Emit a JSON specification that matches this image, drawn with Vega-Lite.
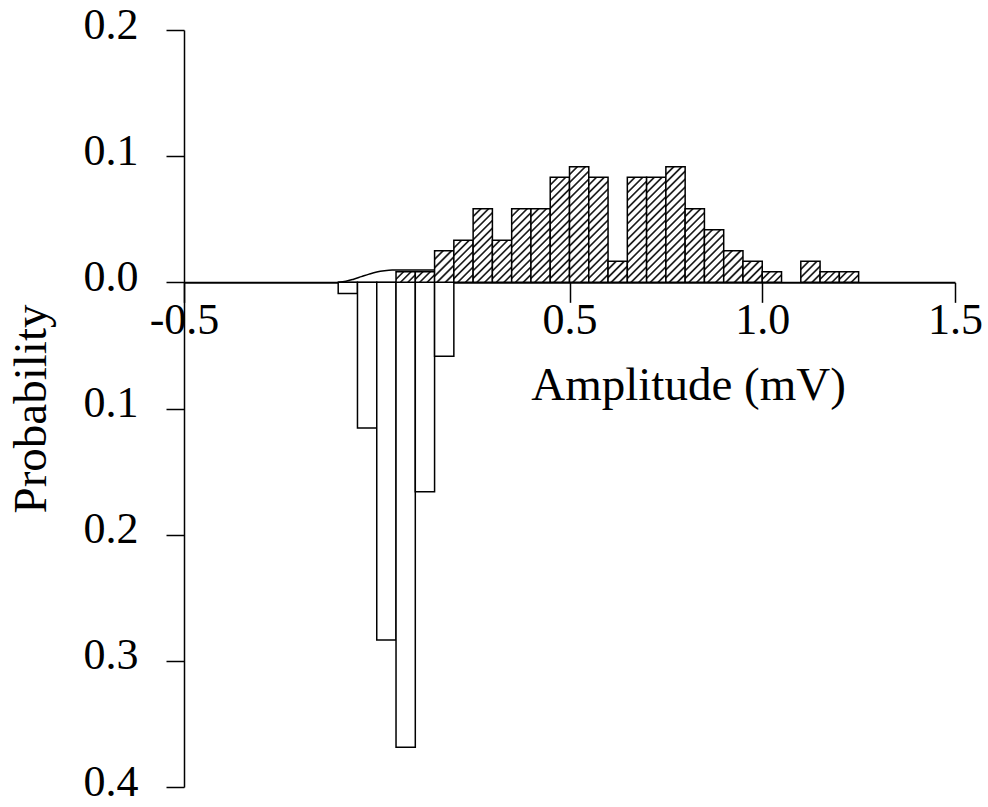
{
  "$schema": "https://vega.github.io/schema/vega-lite/v6.json",
  "width": 771,
  "height": 757,
  "autosize": {"type": "none"},
  "padding": {"left": 184, "top": 30, "right": 33, "bottom": 20},
  "background": "white",
  "config": {
    "view": {"stroke": null},
    "axis": {
      "grid": false,
      "labelFont": "Liberation Serif",
      "titleFont": "Liberation Serif",
      "labelColor": "black",
      "titleColor": "black",
      "domainColor": "black",
      "tickColor": "black",
      "titleFontWeight": "normal",
      "labelFontSize": 44,
      "titleFontSize": 47
    }
  },
  "datasets": {
    "evoked": [
      {"lo": 0.05, "hi": 0.10, "p": 0.00833},
      {"lo": 0.10, "hi": 0.15, "p": 0.00833},
      {"lo": 0.15, "hi": 0.20, "p": 0.025},
      {"lo": 0.20, "hi": 0.25, "p": 0.03333},
      {"lo": 0.25, "hi": 0.30, "p": 0.05833},
      {"lo": 0.30, "hi": 0.35, "p": 0.03333},
      {"lo": 0.35, "hi": 0.40, "p": 0.05833},
      {"lo": 0.40, "hi": 0.45, "p": 0.05833},
      {"lo": 0.45, "hi": 0.50, "p": 0.08333},
      {"lo": 0.50, "hi": 0.55, "p": 0.09167},
      {"lo": 0.55, "hi": 0.60, "p": 0.08333},
      {"lo": 0.60, "hi": 0.65, "p": 0.01667},
      {"lo": 0.65, "hi": 0.70, "p": 0.08333},
      {"lo": 0.70, "hi": 0.75, "p": 0.08333},
      {"lo": 0.75, "hi": 0.80, "p": 0.09167},
      {"lo": 0.80, "hi": 0.85, "p": 0.05833},
      {"lo": 0.85, "hi": 0.90, "p": 0.04167},
      {"lo": 0.90, "hi": 0.95, "p": 0.025},
      {"lo": 0.95, "hi": 1.00, "p": 0.01667},
      {"lo": 1.00, "hi": 1.05, "p": 0.00833},
      {"lo": 1.10, "hi": 1.15, "p": 0.01667},
      {"lo": 1.15, "hi": 1.20, "p": 0.00833},
      {"lo": 1.20, "hi": 1.25, "p": 0.00833}
    ],
    "noise": [
      {"lo": -0.10, "hi": -0.05, "p": -0.0088},
      {"lo": -0.05, "hi": 0.00, "p": -0.1155},
      {"lo": 0.00, "hi": 0.05, "p": -0.2835},
      {"lo": 0.05, "hi": 0.10, "p": -0.3685},
      {"lo": 0.10, "hi": 0.15, "p": -0.1660},
      {"lo": 0.15, "hi": 0.20, "p": -0.0585}
    ],
    "curve": [
      {"a": -0.10, "p": 0.0},
      {"a": -0.08, "p": 0.0008},
      {"a": -0.06, "p": 0.0025},
      {"a": -0.04, "p": 0.0045},
      {"a": -0.02, "p": 0.0065},
      {"a": 0.00, "p": 0.0082},
      {"a": 0.02, "p": 0.0092},
      {"a": 0.04, "p": 0.0097},
      {"a": 0.15, "p": 0.0098}
    ]
  },
  "layer": [
    {
      "data": {"name": "noise"},
      "mark": {"type": "rect", "fill": "white", "stroke": "black", "strokeWidth": 1.5},
      "encoding": {
        "x": {
          "field": "lo",
          "type": "quantitative",
          "scale": {"domain": [-0.5, 1.5], "nice": false, "zero": false},
          "axis": {
            "orient": "bottom",
            "offset": {"expr": "scale('y', 0) - height"},
            "values": [-0.5, 0.5, 1.0, 1.5],
            "labelExpr": "(datum.value < 0 ? '-' : '') + format(abs(datum.value), '.1f')",
            "domainWidth": 2,
            "tickWidth": 1.5,
            "tickSize": 20,
            "labelPadding": -4,
            "labelFlush": false,
            "labelOverlap": false,
            "titleX": 504,
            "titleY": 117,
            "titleAlign": "center",
            "titleBaseline": "alphabetic"
          },
          "title": "Amplitude (mV)"
        },
        "x2": {"field": "hi"},
        "y": {
          "field": "p",
          "type": "quantitative",
          "scale": {"domain": [-0.4, 0.2], "nice": false, "zero": false},
          "axis": {
            "orient": "left",
            "values": [-0.4, -0.3, -0.2, -0.1, 0, 0.1, 0.2],
            "labelExpr": "format(abs(datum.value), '.1f')",
            "domainWidth": 1.5,
            "tickWidth": 1.5,
            "tickSize": 18,
            "labelPadding": 28,
            "labelOffset": -5,
            "labelFlush": false,
            "labelOverlap": false,
            "titlePadding": 28
          },
          "title": "Probability"
        },
        "y2": {"datum": 0}
      }
    },
    {
      "data": {"name": "evoked"},
      "mark": {"type": "rect", "stroke": "black", "strokeWidth": 1.5},
      "encoding": {
        "x": {"field": "lo", "type": "quantitative", "title": "Amplitude (mV)"},
        "x2": {"field": "hi"},
        "y": {"field": "p", "type": "quantitative", "title": "Probability"},
        "y2": {"datum": 0},
        "fill": {
          "condition": [
            {"test": "round(datum.p * 120) == 11", "value": {"gradient": "linear", "x1": 0, "y1": 0, "x2": 0.189, "y2": 1.135, "stops": [
              {"offset": 0, "color": "#1a1a1a"}, {"offset": 0.0035, "color": "#1a1a1a"}, {"offset": 0.0141, "color": "#fff"},
              {"offset": 0.0447, "color": "#fff"}, {"offset": 0.0553, "color": "#1a1a1a"}, {"offset": 0.0624, "color": "#1a1a1a"}, {"offset": 0.0729, "color": "#fff"},
              {"offset": 0.1035, "color": "#fff"}, {"offset": 0.1141, "color": "#1a1a1a"}, {"offset": 0.1212, "color": "#1a1a1a"}, {"offset": 0.1318, "color": "#fff"},
              {"offset": 0.1624, "color": "#fff"}, {"offset": 0.1729, "color": "#1a1a1a"}, {"offset": 0.18, "color": "#1a1a1a"}, {"offset": 0.1906, "color": "#fff"},
              {"offset": 0.2212, "color": "#fff"}, {"offset": 0.2318, "color": "#1a1a1a"}, {"offset": 0.2388, "color": "#1a1a1a"}, {"offset": 0.2494, "color": "#fff"},
              {"offset": 0.28, "color": "#fff"}, {"offset": 0.2906, "color": "#1a1a1a"}, {"offset": 0.2976, "color": "#1a1a1a"}, {"offset": 0.3082, "color": "#fff"},
              {"offset": 0.3388, "color": "#fff"}, {"offset": 0.3494, "color": "#1a1a1a"}, {"offset": 0.3565, "color": "#1a1a1a"}, {"offset": 0.3671, "color": "#fff"},
              {"offset": 0.3976, "color": "#fff"}, {"offset": 0.4082, "color": "#1a1a1a"}, {"offset": 0.4153, "color": "#1a1a1a"}, {"offset": 0.4259, "color": "#fff"},
              {"offset": 0.4565, "color": "#fff"}, {"offset": 0.4671, "color": "#1a1a1a"}, {"offset": 0.4741, "color": "#1a1a1a"}, {"offset": 0.4847, "color": "#fff"},
              {"offset": 0.5153, "color": "#fff"}, {"offset": 0.5259, "color": "#1a1a1a"}, {"offset": 0.5329, "color": "#1a1a1a"}, {"offset": 0.5435, "color": "#fff"},
              {"offset": 0.5741, "color": "#fff"}, {"offset": 0.5847, "color": "#1a1a1a"}, {"offset": 0.5918, "color": "#1a1a1a"}, {"offset": 0.6024, "color": "#fff"},
              {"offset": 0.6329, "color": "#fff"}, {"offset": 0.6435, "color": "#1a1a1a"}, {"offset": 0.6506, "color": "#1a1a1a"}, {"offset": 0.6612, "color": "#fff"},
              {"offset": 0.6918, "color": "#fff"}, {"offset": 0.7024, "color": "#1a1a1a"}, {"offset": 0.7094, "color": "#1a1a1a"}, {"offset": 0.72, "color": "#fff"},
              {"offset": 0.7506, "color": "#fff"}, {"offset": 0.7612, "color": "#1a1a1a"}, {"offset": 0.7682, "color": "#1a1a1a"}, {"offset": 0.7788, "color": "#fff"},
              {"offset": 0.8094, "color": "#fff"}, {"offset": 0.82, "color": "#1a1a1a"}, {"offset": 0.8271, "color": "#1a1a1a"}, {"offset": 0.8376, "color": "#fff"},
              {"offset": 0.8682, "color": "#fff"}, {"offset": 0.8788, "color": "#1a1a1a"}, {"offset": 0.8859, "color": "#1a1a1a"}, {"offset": 0.8965, "color": "#fff"},
              {"offset": 0.9271, "color": "#fff"}, {"offset": 0.9376, "color": "#1a1a1a"}, {"offset": 0.9447, "color": "#1a1a1a"}, {"offset": 0.9553, "color": "#fff"},
              {"offset": 0.9859, "color": "#fff"}, {"offset": 0.9965, "color": "#1a1a1a"}, {"offset": 1, "color": "#1a1a1a"}
            ]}},
            {"test": "round(datum.p * 120) == 10", "value": {"gradient": "linear", "x1": 0, "y1": 0, "x2": 0.210, "y2": 1.145, "stops": [
              {"offset": 0, "color": "#1a1a1a"}, {"offset": 0.0038, "color": "#1a1a1a"}, {"offset": 0.015, "color": "#fff"},
              {"offset": 0.0475, "color": "#fff"}, {"offset": 0.0588, "color": "#1a1a1a"}, {"offset": 0.0663, "color": "#1a1a1a"}, {"offset": 0.0775, "color": "#fff"},
              {"offset": 0.11, "color": "#fff"}, {"offset": 0.1213, "color": "#1a1a1a"}, {"offset": 0.1288, "color": "#1a1a1a"}, {"offset": 0.14, "color": "#fff"},
              {"offset": 0.1725, "color": "#fff"}, {"offset": 0.1838, "color": "#1a1a1a"}, {"offset": 0.1913, "color": "#1a1a1a"}, {"offset": 0.2025, "color": "#fff"},
              {"offset": 0.235, "color": "#fff"}, {"offset": 0.2463, "color": "#1a1a1a"}, {"offset": 0.2538, "color": "#1a1a1a"}, {"offset": 0.265, "color": "#fff"},
              {"offset": 0.2975, "color": "#fff"}, {"offset": 0.3088, "color": "#1a1a1a"}, {"offset": 0.3163, "color": "#1a1a1a"}, {"offset": 0.3275, "color": "#fff"},
              {"offset": 0.36, "color": "#fff"}, {"offset": 0.3713, "color": "#1a1a1a"}, {"offset": 0.3788, "color": "#1a1a1a"}, {"offset": 0.39, "color": "#fff"},
              {"offset": 0.4225, "color": "#fff"}, {"offset": 0.4338, "color": "#1a1a1a"}, {"offset": 0.4413, "color": "#1a1a1a"}, {"offset": 0.4525, "color": "#fff"},
              {"offset": 0.485, "color": "#fff"}, {"offset": 0.4963, "color": "#1a1a1a"}, {"offset": 0.5038, "color": "#1a1a1a"}, {"offset": 0.515, "color": "#fff"},
              {"offset": 0.5475, "color": "#fff"}, {"offset": 0.5588, "color": "#1a1a1a"}, {"offset": 0.5663, "color": "#1a1a1a"}, {"offset": 0.5775, "color": "#fff"},
              {"offset": 0.61, "color": "#fff"}, {"offset": 0.6213, "color": "#1a1a1a"}, {"offset": 0.6288, "color": "#1a1a1a"}, {"offset": 0.64, "color": "#fff"},
              {"offset": 0.6725, "color": "#fff"}, {"offset": 0.6838, "color": "#1a1a1a"}, {"offset": 0.6913, "color": "#1a1a1a"}, {"offset": 0.7025, "color": "#fff"},
              {"offset": 0.735, "color": "#fff"}, {"offset": 0.7463, "color": "#1a1a1a"}, {"offset": 0.7538, "color": "#1a1a1a"}, {"offset": 0.765, "color": "#fff"},
              {"offset": 0.7975, "color": "#fff"}, {"offset": 0.8088, "color": "#1a1a1a"}, {"offset": 0.8163, "color": "#1a1a1a"}, {"offset": 0.8275, "color": "#fff"},
              {"offset": 0.86, "color": "#fff"}, {"offset": 0.8713, "color": "#1a1a1a"}, {"offset": 0.8788, "color": "#1a1a1a"}, {"offset": 0.89, "color": "#fff"},
              {"offset": 0.9225, "color": "#fff"}, {"offset": 0.9338, "color": "#1a1a1a"}, {"offset": 0.9413, "color": "#1a1a1a"}, {"offset": 0.9525, "color": "#fff"},
              {"offset": 0.985, "color": "#fff"}, {"offset": 0.9963, "color": "#1a1a1a"}, {"offset": 1, "color": "#1a1a1a"}
            ]}},
            {"test": "round(datum.p * 120) == 7", "value": {"gradient": "linear", "x1": 0, "y1": 0, "x2": 0.309, "y2": 1.181, "stops": [
              {"offset": 0, "color": "#1a1a1a"}, {"offset": 0.005, "color": "#1a1a1a"}, {"offset": 0.02, "color": "#fff"},
              {"offset": 0.0633, "color": "#fff"}, {"offset": 0.0783, "color": "#1a1a1a"}, {"offset": 0.0883, "color": "#1a1a1a"}, {"offset": 0.1033, "color": "#fff"},
              {"offset": 0.1467, "color": "#fff"}, {"offset": 0.1617, "color": "#1a1a1a"}, {"offset": 0.1717, "color": "#1a1a1a"}, {"offset": 0.1867, "color": "#fff"},
              {"offset": 0.23, "color": "#fff"}, {"offset": 0.245, "color": "#1a1a1a"}, {"offset": 0.255, "color": "#1a1a1a"}, {"offset": 0.27, "color": "#fff"},
              {"offset": 0.3133, "color": "#fff"}, {"offset": 0.3283, "color": "#1a1a1a"}, {"offset": 0.3383, "color": "#1a1a1a"}, {"offset": 0.3533, "color": "#fff"},
              {"offset": 0.3967, "color": "#fff"}, {"offset": 0.4117, "color": "#1a1a1a"}, {"offset": 0.4217, "color": "#1a1a1a"}, {"offset": 0.4367, "color": "#fff"},
              {"offset": 0.48, "color": "#fff"}, {"offset": 0.495, "color": "#1a1a1a"}, {"offset": 0.505, "color": "#1a1a1a"}, {"offset": 0.52, "color": "#fff"},
              {"offset": 0.5633, "color": "#fff"}, {"offset": 0.5783, "color": "#1a1a1a"}, {"offset": 0.5883, "color": "#1a1a1a"}, {"offset": 0.6033, "color": "#fff"},
              {"offset": 0.6467, "color": "#fff"}, {"offset": 0.6617, "color": "#1a1a1a"}, {"offset": 0.6717, "color": "#1a1a1a"}, {"offset": 0.6867, "color": "#fff"},
              {"offset": 0.73, "color": "#fff"}, {"offset": 0.745, "color": "#1a1a1a"}, {"offset": 0.755, "color": "#1a1a1a"}, {"offset": 0.77, "color": "#fff"},
              {"offset": 0.8133, "color": "#fff"}, {"offset": 0.8283, "color": "#1a1a1a"}, {"offset": 0.8383, "color": "#1a1a1a"}, {"offset": 0.8533, "color": "#fff"},
              {"offset": 0.8967, "color": "#fff"}, {"offset": 0.9117, "color": "#1a1a1a"}, {"offset": 0.9217, "color": "#1a1a1a"}, {"offset": 0.9367, "color": "#fff"},
              {"offset": 0.98, "color": "#fff"}, {"offset": 0.995, "color": "#1a1a1a"}, {"offset": 1, "color": "#1a1a1a"}
            ]}},
            {"test": "round(datum.p * 120) == 5", "value": {"gradient": "linear", "x1": 0, "y1": 0, "x2": 0.442, "y2": 1.205, "stops": [
              {"offset": 0, "color": "#1a1a1a"}, {"offset": 0.0067, "color": "#1a1a1a"}, {"offset": 0.0267, "color": "#fff"},
              {"offset": 0.0844, "color": "#fff"}, {"offset": 0.1044, "color": "#1a1a1a"}, {"offset": 0.1178, "color": "#1a1a1a"}, {"offset": 0.1378, "color": "#fff"},
              {"offset": 0.1956, "color": "#fff"}, {"offset": 0.2156, "color": "#1a1a1a"}, {"offset": 0.2289, "color": "#1a1a1a"}, {"offset": 0.2489, "color": "#fff"},
              {"offset": 0.3067, "color": "#fff"}, {"offset": 0.3267, "color": "#1a1a1a"}, {"offset": 0.34, "color": "#1a1a1a"}, {"offset": 0.36, "color": "#fff"},
              {"offset": 0.4178, "color": "#fff"}, {"offset": 0.4378, "color": "#1a1a1a"}, {"offset": 0.4511, "color": "#1a1a1a"}, {"offset": 0.4711, "color": "#fff"},
              {"offset": 0.5289, "color": "#fff"}, {"offset": 0.5489, "color": "#1a1a1a"}, {"offset": 0.5622, "color": "#1a1a1a"}, {"offset": 0.5822, "color": "#fff"},
              {"offset": 0.64, "color": "#fff"}, {"offset": 0.66, "color": "#1a1a1a"}, {"offset": 0.6733, "color": "#1a1a1a"}, {"offset": 0.6933, "color": "#fff"},
              {"offset": 0.7511, "color": "#fff"}, {"offset": 0.7711, "color": "#1a1a1a"}, {"offset": 0.7844, "color": "#1a1a1a"}, {"offset": 0.8044, "color": "#fff"},
              {"offset": 0.8622, "color": "#fff"}, {"offset": 0.8822, "color": "#1a1a1a"}, {"offset": 0.8956, "color": "#1a1a1a"}, {"offset": 0.9156, "color": "#fff"},
              {"offset": 0.9733, "color": "#fff"}, {"offset": 0.9933, "color": "#1a1a1a"}, {"offset": 1, "color": "#1a1a1a"}
            ]}},
            {"test": "round(datum.p * 120) == 4", "value": {"gradient": "linear", "x1": 0, "y1": 0, "x2": 0.552, "y2": 1.205, "stops": [
              {"offset": 0, "color": "#1a1a1a"}, {"offset": 0.0075, "color": "#1a1a1a"}, {"offset": 0.03, "color": "#fff"},
              {"offset": 0.095, "color": "#fff"}, {"offset": 0.1175, "color": "#1a1a1a"}, {"offset": 0.1325, "color": "#1a1a1a"}, {"offset": 0.155, "color": "#fff"},
              {"offset": 0.22, "color": "#fff"}, {"offset": 0.2425, "color": "#1a1a1a"}, {"offset": 0.2575, "color": "#1a1a1a"}, {"offset": 0.28, "color": "#fff"},
              {"offset": 0.345, "color": "#fff"}, {"offset": 0.3675, "color": "#1a1a1a"}, {"offset": 0.3825, "color": "#1a1a1a"}, {"offset": 0.405, "color": "#fff"},
              {"offset": 0.47, "color": "#fff"}, {"offset": 0.4925, "color": "#1a1a1a"}, {"offset": 0.5075, "color": "#1a1a1a"}, {"offset": 0.53, "color": "#fff"},
              {"offset": 0.595, "color": "#fff"}, {"offset": 0.6175, "color": "#1a1a1a"}, {"offset": 0.6325, "color": "#1a1a1a"}, {"offset": 0.655, "color": "#fff"},
              {"offset": 0.72, "color": "#fff"}, {"offset": 0.7425, "color": "#1a1a1a"}, {"offset": 0.7575, "color": "#1a1a1a"}, {"offset": 0.78, "color": "#fff"},
              {"offset": 0.845, "color": "#fff"}, {"offset": 0.8675, "color": "#1a1a1a"}, {"offset": 0.8825, "color": "#1a1a1a"}, {"offset": 0.905, "color": "#fff"},
              {"offset": 0.97, "color": "#fff"}, {"offset": 0.9925, "color": "#1a1a1a"}, {"offset": 1, "color": "#1a1a1a"}
            ]}},
            {"test": "round(datum.p * 120) == 3", "value": {"gradient": "linear", "x1": 0, "y1": 0, "x2": 0.717, "y2": 1.173, "stops": [
              {"offset": 0, "color": "#1a1a1a"}, {"offset": 0.01, "color": "#1a1a1a"}, {"offset": 0.04, "color": "#fff"},
              {"offset": 0.1267, "color": "#fff"}, {"offset": 0.1567, "color": "#1a1a1a"}, {"offset": 0.1767, "color": "#1a1a1a"}, {"offset": 0.2067, "color": "#fff"},
              {"offset": 0.2933, "color": "#fff"}, {"offset": 0.3233, "color": "#1a1a1a"}, {"offset": 0.3433, "color": "#1a1a1a"}, {"offset": 0.3733, "color": "#fff"},
              {"offset": 0.46, "color": "#fff"}, {"offset": 0.49, "color": "#1a1a1a"}, {"offset": 0.51, "color": "#1a1a1a"}, {"offset": 0.54, "color": "#fff"},
              {"offset": 0.6267, "color": "#fff"}, {"offset": 0.6567, "color": "#1a1a1a"}, {"offset": 0.6767, "color": "#1a1a1a"}, {"offset": 0.7067, "color": "#fff"},
              {"offset": 0.7933, "color": "#fff"}, {"offset": 0.8233, "color": "#1a1a1a"}, {"offset": 0.8433, "color": "#1a1a1a"}, {"offset": 0.8733, "color": "#fff"},
              {"offset": 0.96, "color": "#fff"}, {"offset": 0.99, "color": "#1a1a1a"}, {"offset": 1, "color": "#1a1a1a"}
            ]}},
            {"test": "round(datum.p * 120) == 2", "value": {"gradient": "linear", "x1": 0, "y1": 0, "x2": 0.955, "y2": 1.042, "stops": [
              {"offset": 0, "color": "#1a1a1a"}, {"offset": 0.012, "color": "#1a1a1a"}, {"offset": 0.048, "color": "#fff"},
              {"offset": 0.152, "color": "#fff"}, {"offset": 0.188, "color": "#1a1a1a"}, {"offset": 0.212, "color": "#1a1a1a"}, {"offset": 0.248, "color": "#fff"},
              {"offset": 0.352, "color": "#fff"}, {"offset": 0.388, "color": "#1a1a1a"}, {"offset": 0.412, "color": "#1a1a1a"}, {"offset": 0.448, "color": "#fff"},
              {"offset": 0.552, "color": "#fff"}, {"offset": 0.588, "color": "#1a1a1a"}, {"offset": 0.612, "color": "#1a1a1a"}, {"offset": 0.648, "color": "#fff"},
              {"offset": 0.752, "color": "#fff"}, {"offset": 0.788, "color": "#1a1a1a"}, {"offset": 0.812, "color": "#1a1a1a"}, {"offset": 0.848, "color": "#fff"},
              {"offset": 0.952, "color": "#fff"}, {"offset": 0.988, "color": "#1a1a1a"}, {"offset": 1, "color": "#1a1a1a"}
            ]}}
          ],
          "value": {"gradient": "linear", "x1": 0, "y1": 0, "x2": 1.191, "y2": 0.650, "stops": [
            {"offset": 0, "color": "#1a1a1a"}, {"offset": 0.015, "color": "#1a1a1a"}, {"offset": 0.06, "color": "#fff"},
            {"offset": 0.19, "color": "#fff"}, {"offset": 0.235, "color": "#1a1a1a"}, {"offset": 0.265, "color": "#1a1a1a"}, {"offset": 0.31, "color": "#fff"},
            {"offset": 0.44, "color": "#fff"}, {"offset": 0.485, "color": "#1a1a1a"}, {"offset": 0.515, "color": "#1a1a1a"}, {"offset": 0.56, "color": "#fff"},
            {"offset": 0.69, "color": "#fff"}, {"offset": 0.735, "color": "#1a1a1a"}, {"offset": 0.765, "color": "#1a1a1a"}, {"offset": 0.81, "color": "#fff"},
            {"offset": 0.94, "color": "#fff"}, {"offset": 0.985, "color": "#1a1a1a"}, {"offset": 1, "color": "#1a1a1a"}
          ]}
        }
      }
    },
    {
      "data": {"name": "curve"},
      "mark": {"type": "line", "color": "black", "strokeWidth": 1.5, "interpolate": "monotone"},
      "encoding": {
        "x": {"field": "a", "type": "quantitative", "title": "Amplitude (mV)"},
        "y": {"field": "p", "type": "quantitative", "title": "Probability"}
      }
    }
  ]
}
